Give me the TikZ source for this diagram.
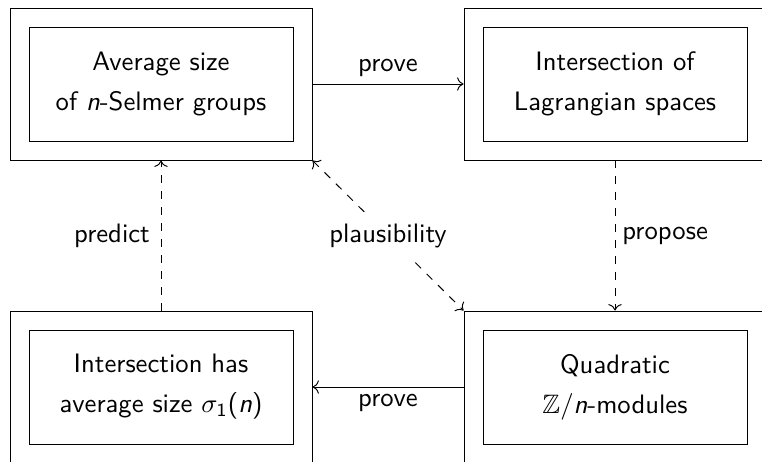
\documentclass[tikz,border=0pt]{standalone}
\usepackage{amssymb}
\usetikzlibrary{arrows.meta}
\begin{document}
\begin{tikzpicture}[x=0.375pt,y=-0.375pt,
  font=\sffamily, line width=0.36pt,
  innerbox/.style={draw,rectangle,minimum width=99pt,minimum height=42.75pt,
    align=center,inner sep=0pt},
  outerbox/.style={draw,rectangle,minimum width=113.25pt,minimum height=57pt,inner sep=0pt},
  arr/.style={->},
  lbl/.style={inner sep=2.6pt}]
\useasboundingbox (0,0) rectangle (762,461);
\clip (0,0) rectangle (762,461);

% boxes: inner text box framed by an outer box
\node[innerbox] (avg) at (161,84) {Average size\\[3pt] of \textit{n}-Selmer groups};
\node[outerbox] (avgO) at (161,84) {};
\node[innerbox] (lag) at (615,84) {Intersection of\\[3pt] Lagrangian spaces};
\node[outerbox] (lagO) at (615,84) {};
\node[innerbox] (sig) at (161,387) {Intersection has\\[3pt] average size $\sigma_{\mathsf{1}}$(\textit{n})};
\node[outerbox] (sigO) at (161,387) {};
\node[innerbox] (quad) at (615,387) {Quadratic\\[3pt] $\mathbb{Z}/$\textit{n}-modules};
\node[outerbox] (quadO) at (615,387) {};

% connectors
\draw[arr] (avgO.east) -- node[lbl,above] {prove} (lagO.west);
\draw[arr,dashed] (lagO.south) -- node[lbl,right] {propose} (quadO.north);
\draw[arr] (quadO.west) -- node[lbl,below] {prove} (sigO.east);
\draw[arr,dashed] (sigO.north) -- node[inner sep=4pt,left] {predict} (avgO.south);
\draw[<->,dashed] (avgO.south east) -- node[fill=white,inner sep=3.8pt] {plausibility} (quadO.north west);
\end{tikzpicture}
\end{document}
